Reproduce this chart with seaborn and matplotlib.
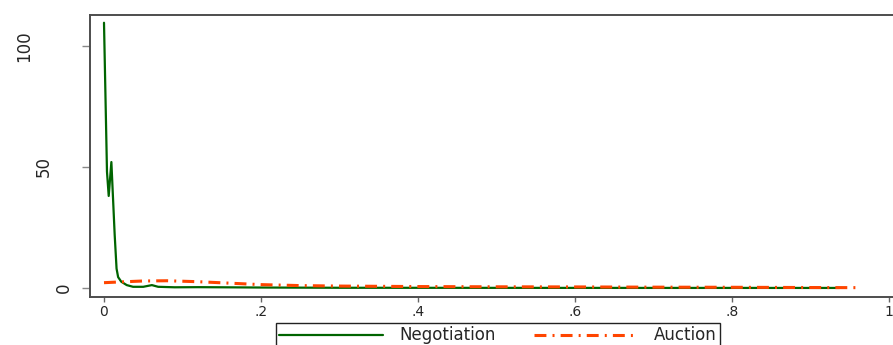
import numpy as np
import pandas as pd
import seaborn as sns
import matplotlib
matplotlib.use("Agg")
import matplotlib.pyplot as plt
from matplotlib.transforms import blended_transform_factory

# Density estimates by sale mechanism
neg_x = [0.000, 0.0038, 0.006, 0.0094, 0.0136, 0.016, 0.018, 0.022, 0.029,
         0.037, 0.050, 0.061, 0.069, 0.090, 0.120, 0.150, 0.200, 0.300,
         0.400, 0.500, 0.600, 0.700, 0.800, 0.900, 0.937]
neg_y = [109.5, 48.0, 38.0, 52.0, 22.0, 8.0, 4.5, 2.6, 1.2,
         0.5, 0.5, 1.2, 0.5, 0.3, 0.35, 0.3, 0.2, 0.1,
         0.08, 0.06, 0.05, 0.04, 0.04, 0.03, 0.03]

auc_x = [0.000, 0.020, 0.050, 0.080, 0.120, 0.160, 0.200, 0.250, 0.300,
         0.350, 0.400, 0.500, 0.600, 0.700, 0.800, 0.900, 0.960]
auc_y = [2.2, 2.5, 2.9, 3.0, 2.6, 2.0, 1.4, 1.0, 0.8,
         0.7, 0.6, 0.5, 0.45, 0.35, 0.3, 0.2, 0.15]

series_labels = ["Negotiation", "Auction"]
x_ticks = [0, 0.2, 0.4, 0.6, 0.8, 1.0]
x_tick_labels = ["0", ".2", ".4", ".6", ".8", "1"]
y_ticks = [0, 50, 100]
y_tick_labels = ["0", "50", "100"]

sns.set_style("white")
plt.rcParams["font.family"] = ["DejaVu Sans"]

W, H = 893, 345
fig = plt.figure(figsize=(W / 100, H / 100), dpi=100)
ax = fig.add_axes([89.5 / W, 48 / H, 814 / W, 282 / H])

green = "#006400"
orange = "#ff4500"

sns.lineplot(x=neg_x, y=neg_y, ax=ax, color=green, linewidth=1.6,
             label=series_labels[0], sort=False, errorbar=None)
sns.lineplot(x=auc_x, y=auc_y, ax=ax, color=orange, linewidth=2.2,
             linestyle=(0, (3.9, 2.0, 0.65, 2.0)),
             label=series_labels[1], sort=False, errorbar=None)

ax.set_xlim(-0.01847, 1.01847)
ax.set_ylim(-3.71, 112.7)
ax.set_xlabel("")
ax.set_ylabel("")

ax.set_xticks(x_ticks)
ax.set_xticklabels(x_tick_labels, fontsize=10)
ax.set_yticks(y_ticks)
ax.set_yticklabels([])
ax.tick_params(axis="x", direction="out", length=3.6, width=1.0,
               color="#666666", pad=2.5, bottom=True)
ax.tick_params(axis="y", direction="out", length=5.8, width=1.0,
               color="#888888", left=True)

for sp in ax.spines.values():
    sp.set_color("#4d4d4d")
    sp.set_linewidth(1.4)

# rotated y labels, staggered by label length
trans = blended_transform_factory(fig.transFigure, ax.transData)
for val, lab in zip(y_ticks, y_tick_labels):
    left_px = 55 - 20 * (len(lab) - 1)
    ax.text(left_px / W, val, lab, rotation=90, ha="left", va="center",
            fontsize=12, transform=trans, clip_on=False)

handles, labels = ax.get_legend_handles_labels()
leg = fig.legend(handles, labels, loc="upper center",
                 bbox_to_anchor=(498 / W, 22 / H), ncol=2, fontsize=12,
                 frameon=True, fancybox=False, edgecolor="#222222",
                 handlelength=6.2, handletextpad=1.0, columnspacing=2.3,
                 borderpad=0.2, borderaxespad=0, framealpha=1)
leg.get_frame().set_linewidth(1.0)
if ax.get_legend() is not None:
    ax.get_legend().remove()

fig.savefig("out.png", dpi=100)
